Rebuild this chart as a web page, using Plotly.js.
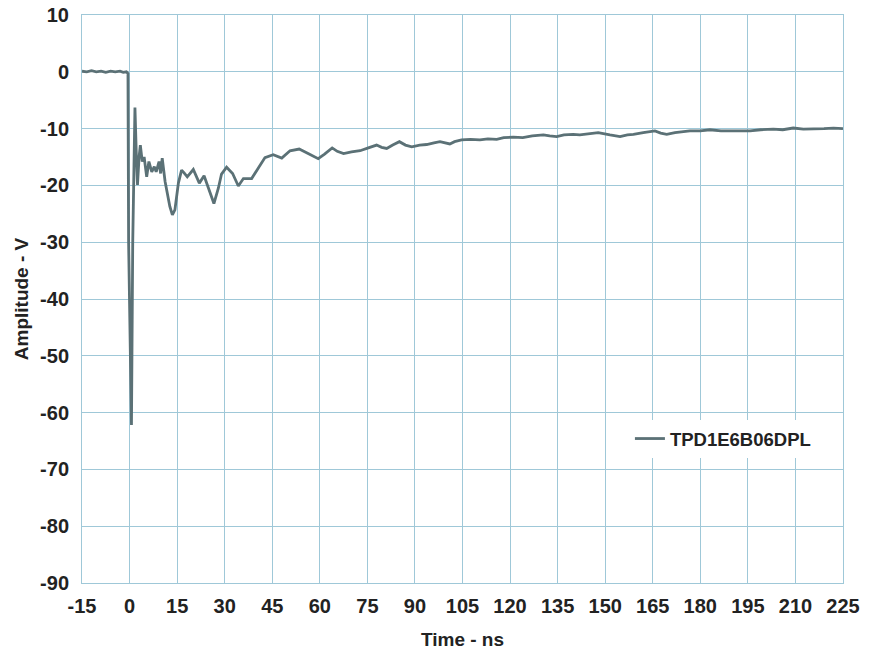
<!DOCTYPE html>
<html>
<head>
<meta charset="utf-8">
<script src="https://cdn.plot.ly/plotly-3.0.1.min.js"></script>
<style>html,body{margin:0;padding:0;background:#fff;}#chart{width:869px;height:650px;}</style>
</head>
<body>
<div id="chart"></div>
<script>
const seriesName = "TPD1E6B06DPL";
const timeNs = [-15,-13.5,-12,-10.5,-9,-7.5,-6,-4.5,-3,-2,-1,-0.5,
  -0.3,0.6,1.0,1.4,1.7,2.1,2.5,3.0,3.4,4.0,4.6,5.4,6.1,7.0,7.8,8.4,9.3,9.8,10.3,11.2,12.0,12.7,13.5,14.3,15.4,16.4,17.2,18.2,20.1,22.0,23.5,25.0,26.6,28.0,29.0,30.6,32.5,34.3,35.9,38.5,40.1,41.5,42.7,45.3,46.5,48.0,50.6,53.5,56,59.5,61.5,63.9,65.5,67.5,70,72.7,75.3,77.9,79.5,81.1,83,85.1,87,89.0,91.5,93.7,96,97.9,101,102.5,104.7,107.5,110.5,113,115.8,118,121,124,127,130.5,132.5,134.7,137,139.9,142,145,147.8,151.5,154.7,157,158.9,162,165.7,167.5,169.4,172,176.7,180,183,186.5,190.4,193,195.7,199,203,206,209.3,212.5,215.6,219,222,225];
const amplitudeV = [0.1,0.0,0.2,0.0,0.1,-0.1,0.1,0.0,0.1,-0.1,0.0,-0.3,
  -30,-62.2,-30,-10,-6.3,-14,-19.9,-15,-12.9,-15.8,-15.0,-18.5,-15.8,-17.6,-16.7,-17.6,-15.8,-17.9,-15.2,-19.3,-22,-23.7,-25.2,-24.3,-19.6,-17.3,-17.8,-18.5,-17.2,-19.6,-18.3,-20.5,-23.2,-20.5,-18,-16.8,-17.9,-20.1,-18.8,-18.8,-17.3,-16.2,-15.1,-14.6,-14.9,-15.2,-13.9,-13.6,-14.3,-15.3,-14.5,-13.4,-14.0,-14.4,-14.1,-13.9,-13.4,-12.9,-13.3,-13.5,-12.9,-12.3,-12.9,-13.2,-12.9,-12.8,-12.5,-12.3,-12.7,-12.3,-12.0,-11.9,-12.0,-11.8,-11.9,-11.6,-11.5,-11.6,-11.3,-11.1,-11.3,-11.4,-11.1,-11.0,-11.1,-10.9,-10.7,-11.1,-11.4,-11.1,-11.0,-10.7,-10.4,-10.8,-11.0,-10.7,-10.4,-10.4,-10.2,-10.4,-10.4,-10.3,-10.4,-10.2,-10.1,-10.2,-9.9,-10.1,-10.1,-10.0,-9.9,-10.0];
const xTicks = [-15,0,15,30,45,60,75,90,105,120,135,150,165,180,195,210,225];
const yTicks = [10,0,-10,-20,-30,-40,-50,-60,-70,-80,-90];

const gridColor = "#9fc8d8";
const fontFam = "'Liberation Sans', Arial, sans-serif";

const trace = {
  x: timeNs, y: amplitudeV, type: "scatter", mode: "lines", name: seriesName,
  line: {color: "#5b7176", width: 2.8}
};
const layout = {
  width: 869, height: 650,
  margin: {l: 82, r: 26, t: 15, b: 67},
  paper_bgcolor: "#fff", plot_bgcolor: "#fff",
  font: {family: fontFam, color: "#222", size: 18},
  showlegend: true,
  legend: {x: 0.72, y: 0.2535, xanchor: "left", yanchor: "middle", bgcolor: "#fff",
    font: {family: fontFam, size: 18.5, weight: "bold", color: "#222"}},
  xaxis: {
    range: [-15, 225], tickvals: xTicks, ticktext: xTicks.map(String),
    showgrid: true, gridcolor: gridColor, gridwidth: 1, zeroline: false,
    showline: true, mirror: true, linecolor: gridColor, ticks: "",
    tickfont: {family: fontFam, size: 20, weight: "bold", color: "#222"},
    ticklabelstandoff: 5,
    title: {text: "Time - ns", font: {family: fontFam, size: 19, weight: "bold", color: "#222"}, standoff: 16}
  },
  yaxis: {
    range: [-90, 10], tickvals: yTicks, ticktext: yTicks.map(String),
    showgrid: true, gridcolor: gridColor, gridwidth: 1, zeroline: false,
    showline: true, mirror: true, linecolor: gridColor, ticks: "",
    tickfont: {family: fontFam, size: 20, weight: "bold", color: "#222"},
    ticklabelstandoff: 8,
    title: {text: "Amplitude - V", font: {family: fontFam, size: 19, weight: "bold", color: "#222"}, standoff: 6}
  }
};
Plotly.newPlot("chart", [trace], layout, {displayModeBar: false, staticPlot: true});
</script>
</body>
</html>
